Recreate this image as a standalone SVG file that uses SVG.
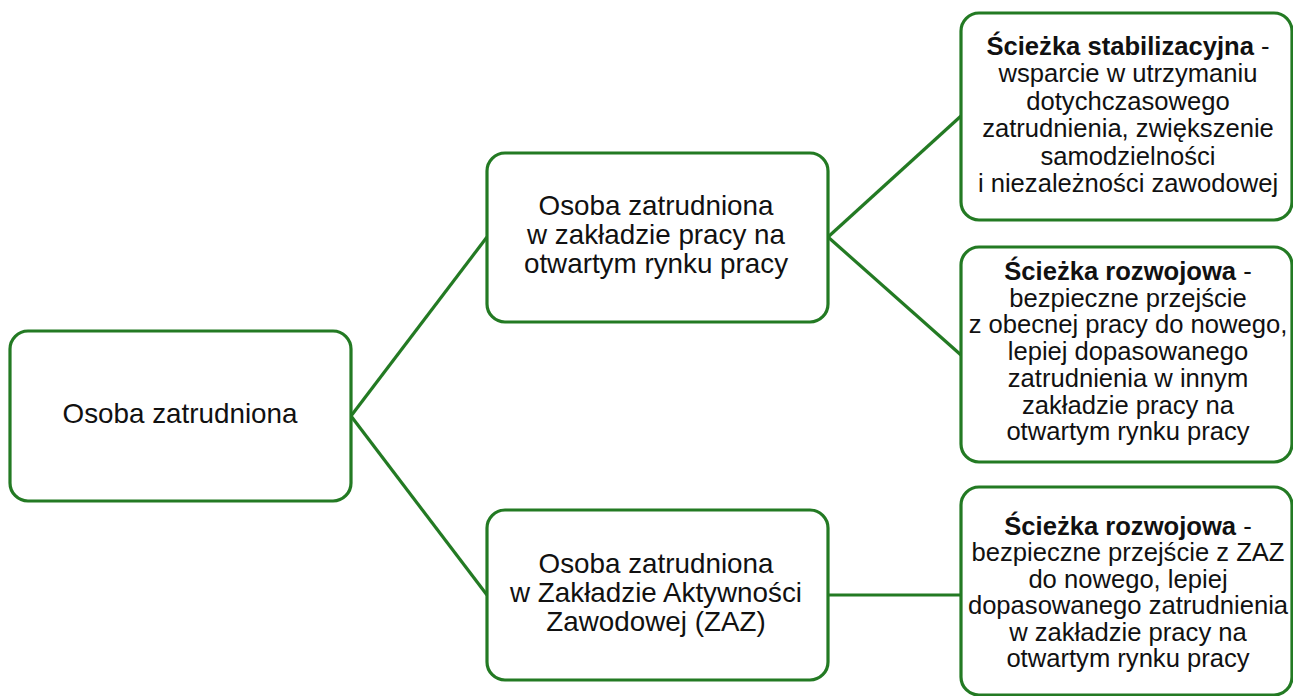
<svg xmlns="http://www.w3.org/2000/svg" width="1293" height="696" viewBox="0 0 1293 696">
<style>
.box{fill:#fff;stroke:#237a23;stroke-width:3.2}
.con{stroke:#237a23;stroke-width:3.2;fill:none}
.t{font-family:"Liberation Sans",Arial,sans-serif;font-size:27.8px;fill:#111;text-anchor:middle}
.s{font-family:"Liberation Sans",Arial,sans-serif;font-size:25.6px;fill:#111;text-anchor:middle}
.b{font-weight:bold}
</style>
<rect width="1293" height="696" fill="#fff"/>
<g id="connectors">
<line class="con" x1="351" y1="416" x2="487" y2="237"/>
<line class="con" x1="351" y1="416" x2="487" y2="595"/>
<line class="con" x1="828" y1="237" x2="961" y2="116"/>
<line class="con" x1="828" y1="237" x2="961" y2="355"/>
<line class="con" x1="828" y1="595" x2="961" y2="595"/>
</g>
<g id="n-root">
<rect class="box" x="10" y="331" width="341" height="170" rx="18"/>
<text class="t" x="180" y="423">Osoba zatrudniona</text>
</g>
<g id="n-open">
<rect class="box" x="487" y="153" width="341" height="169" rx="18"/>
<text class="t" x="656" y="215">Osoba zatrudniona</text>
<text class="t" x="656" y="244">w zakładzie pracy na</text>
<text class="t" x="656" y="273">otwartym rynku pracy</text>
</g>
<g id="n-zaz">
<rect class="box" x="487" y="510" width="341" height="170" rx="18"/>
<text class="t" x="656" y="573">Osoba zatrudniona</text>
<text class="t" x="656" y="602">w Zakładzie Aktywności</text>
<text class="t" x="656" y="631">Zawodowej (ZAZ)</text>
</g>
<g id="n-stab">
<rect class="box" x="961" y="13" width="331" height="207" rx="18"/>
<text class="s" x="1128" y="55"><tspan class="b">Ścieżka stabilizacyjna</tspan> -</text>
<text class="s" x="1128" y="82.4">wsparcie w utrzymaniu</text>
<text class="s" x="1128" y="109.8">dotychczasowego</text>
<text class="s" x="1128" y="137.2">zatrudnienia, zwiększenie</text>
<text class="s" x="1128" y="164.6">samodzielności</text>
<text class="s" x="1128" y="192">i niezależności zawodowej</text>
</g>
<g id="n-rozw1">
<rect class="box" x="961" y="247" width="331" height="215" rx="18"/>
<text class="s" x="1128" y="280"><tspan class="b">Ścieżka rozwojowa</tspan> -</text>
<text class="s" x="1128" y="306.7">bezpieczne przejście</text>
<text class="s" x="1128" y="333.4">z obecnej pracy do nowego,</text>
<text class="s" x="1128" y="360.1">lepiej dopasowanego</text>
<text class="s" x="1128" y="386.8">zatrudnienia w innym</text>
<text class="s" x="1128" y="413.5">zakładzie pracy na</text>
<text class="s" x="1128" y="440.2">otwartym rynku pracy</text>
</g>
<g id="n-rozw2">
<rect class="box" x="961" y="487" width="331" height="208" rx="18"/>
<text class="s" x="1128" y="535"><tspan class="b">Ścieżka rozwojowa</tspan> -</text>
<text class="s" x="1128" y="561.4">bezpieczne przejście z ZAZ</text>
<text class="s" x="1128" y="587.8">do nowego, lepiej</text>
<text class="s" x="1128" y="614.2">dopasowanego zatrudnienia</text>
<text class="s" x="1128" y="640.6">w zakładzie pracy na</text>
<text class="s" x="1128" y="667">otwartym rynku pracy</text>
</g>
</svg>
